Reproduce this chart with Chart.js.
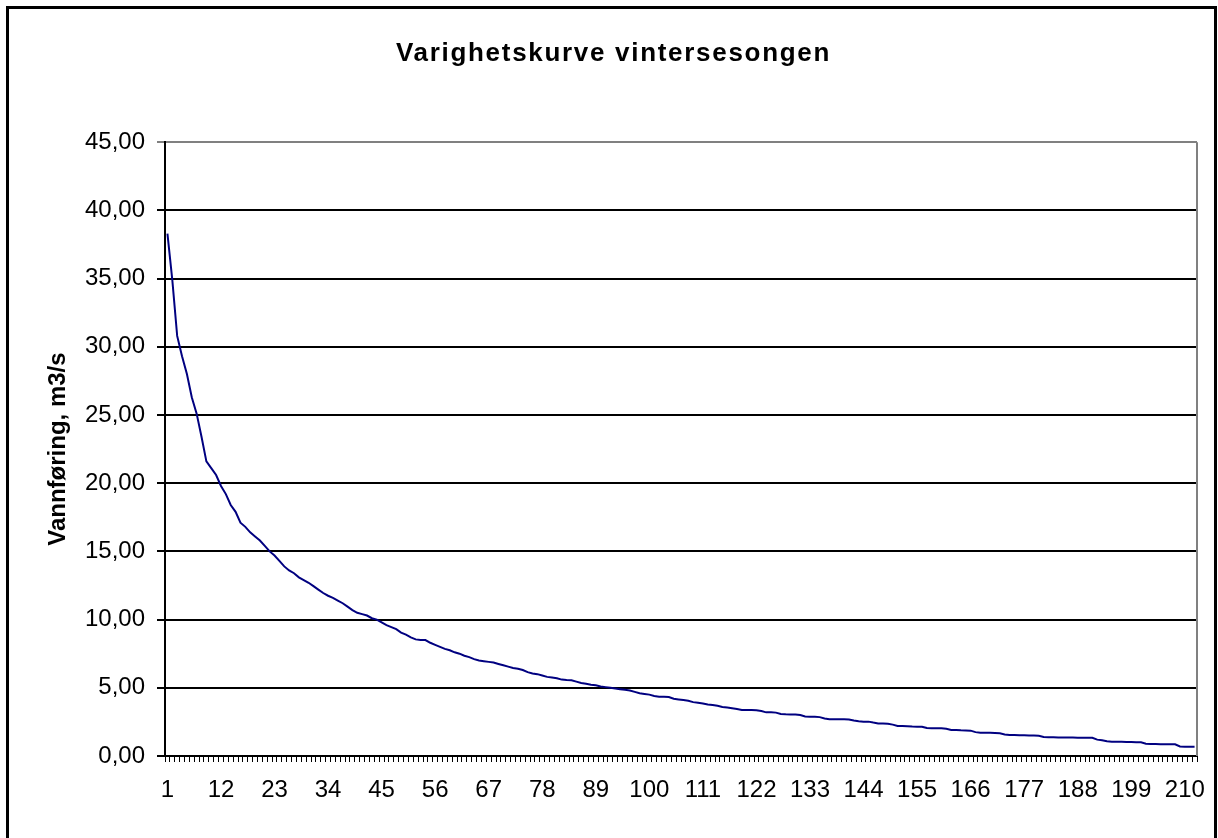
<!DOCTYPE html>
<html>
<head>
<meta charset="utf-8">
<script src="https://cdn.jsdelivr.net/npm/chart.js@4/dist/chart.umd.min.js"></script>
<style>
  html, body { margin: 0; padding: 0; background: #fff; }
  #wrap { position: relative; width: 1218px; height: 838px; overflow: hidden; }
  #frame { position: absolute; left: 6px; top: 6px; width: 1205px; height: 900px; border: 3px solid #000; pointer-events: none; }
</style>
</head>
<body>
<div id="wrap">
  <canvas id="chart" width="1218" height="838"></canvas>
  <div id="frame"></div>
</div>
<script>
// varighetskurve, dag 1..212, vannføring m3/s
const days = [];
for (let d = 1; d <= 212; d++) days.push(String(d));

const flow = [
  38.3, 34.9, 30.8, 29.3, 28.0, 26.3, 25.1, 23.4, 21.6, 21.1,
  20.6, 19.8, 19.2, 18.4, 17.9, 17.1, 16.8, 16.4, 16.1, 15.8,
  15.4, 15.0, 14.7, 14.3, 13.9, 13.6, 13.4, 13.1, 12.9, 12.7,
  12.45, 12.2, 11.95, 11.75, 11.6, 11.4, 11.2, 10.95, 10.7, 10.5,
  10.4, 10.3, 10.1, 10.0, 9.8, 9.6, 9.45, 9.3, 9.05, 8.9,
  8.7, 8.55, 8.5, 8.5, 8.3, 8.15, 8.0, 7.85, 7.75, 7.6,
  7.5, 7.35, 7.25, 7.1, 7.0, 6.95, 6.9, 6.85, 6.75, 6.65,
  6.55, 6.45, 6.4, 6.3, 6.15, 6.05, 6.0, 5.9, 5.8, 5.75,
  5.7, 5.6, 5.57, 5.55, 5.45, 5.35, 5.3, 5.22, 5.18, 5.1,
  5.05, 5.0, 4.95, 4.9, 4.85, 4.8, 4.7, 4.6, 4.55, 4.5,
  4.4, 4.35, 4.35, 4.33, 4.2, 4.15, 4.1, 4.05, 3.95, 3.9,
  3.85, 3.78, 3.74, 3.68, 3.6, 3.55, 3.5, 3.45, 3.38, 3.37,
  3.37, 3.35, 3.3, 3.2, 3.2, 3.18, 3.08, 3.06, 3.05, 3.05,
  3.0, 2.9, 2.88, 2.88, 2.85, 2.75, 2.7, 2.7, 2.69, 2.69,
  2.68, 2.6, 2.55, 2.52, 2.52, 2.45, 2.39, 2.38, 2.36, 2.3,
  2.2, 2.2, 2.18, 2.16, 2.15, 2.15, 2.05, 2.03, 2.03, 2.03,
  2.0, 1.9, 1.9, 1.88, 1.87, 1.86, 1.75, 1.71, 1.7, 1.7,
  1.68, 1.66, 1.58, 1.54, 1.54, 1.53, 1.52, 1.51, 1.5, 1.49,
  1.4, 1.37, 1.37, 1.36, 1.36, 1.35, 1.35, 1.34, 1.34, 1.34,
  1.33, 1.2, 1.15, 1.08, 1.05, 1.05, 1.04, 1.03, 1.02, 1.01,
  1.0, 0.9, 0.88, 0.88, 0.87, 0.87, 0.86, 0.86, 0.7, 0.68,
  0.68, 0.68
];

const yTicks = [0, 5, 10, 15, 20, 25, 30, 35, 40, 45];
const labelEvery = 11;

const font = 'Liberation Sans, Arial, sans-serif';

new Chart(document.getElementById('chart'), {
  type: 'line',
  data: {
    labels: days,
    datasets: [{
      data: flow,
      borderColor: '#000080',
      borderWidth: 2,
      pointRadius: 0,
      tension: 0,
      fill: false
    }]
  },
  options: {
    responsive: false,
    animation: false,
    layout: { padding: { left: 30, right: 21, top: 20, bottom: 0 } },
    plugins: {
      legend: { display: false },
      tooltip: { enabled: false },
      title: {
        display: true,
        text: 'Varighetskurve vintersesongen',
        color: '#000',
        font: { family: font, size: 26, weight: 'bold' },
        padding: { top: 18, bottom: 73 }
      }
    },
    scales: {
      x: {
        offset: true,
        grid: {
          offset: true,
          drawOnChartArea: false,
          drawTicks: true,
          tickLength: 6,
          color: '#000',
          lineWidth: 1
        },
        border: { display: true, color: '#000', width: 2 },
        ticks: {
          autoSkip: false,
          maxRotation: 0,
          minRotation: 0,
          padding: 14,
          color: '#000',
          font: { family: font, size: 24 },
          callback: (v, i) => (i % labelEvery === 0 ? days[i] : '')
        },
        afterFit: (s) => { s.height = 82; }
      },
      y: {
        min: 0,
        max: 45,
        afterBuildTicks: (s) => { s.ticks = yTicks.map(v => ({ value: v })); },
        grid: {
          color: (c) => (c.tick && c.tick.value === 45 ? '#808080' : '#000'),
          lineWidth: 2,
          tickLength: 8
        },
        border: { display: true, color: '#000', width: 2 },
        ticks: {
          padding: 12,
          color: '#000',
          font: { family: font, size: 24 },
          callback: (v) => v.toFixed(2).replace('.', ',')
        },
        title: {
          display: true,
          text: 'Vannføring, m3/s',
          color: '#000',
          font: { family: font, size: 24, weight: 'bold' },
          padding: { top: 14, bottom: 0 }
        },
        afterFit: (s) => { s.width = 135; }
      }
    }
  },
  plugins: [{
    id: 'titleSpacing',
    afterInit(chart) {
      const tb = chart.titleBlock;
      if (!tb) return;
      const orig = tb.draw;
      tb.draw = function () {
        const ctx = chart.ctx;
        ctx.save();
        ctx.letterSpacing = '1.7px';
        orig.apply(this, arguments);
        ctx.restore();
      };
    }
  }, {
    id: 'rightBorder',
    afterDraw(chart) {
      const { ctx, chartArea: a } = chart;
      ctx.save();
      ctx.strokeStyle = '#808080';
      ctx.lineWidth = 2;
      ctx.beginPath();
      ctx.moveTo(a.right, a.top);
      ctx.lineTo(a.right, a.bottom);
      ctx.stroke();
      ctx.restore();
    }
  }]
});
</script>
</body>
</html>
